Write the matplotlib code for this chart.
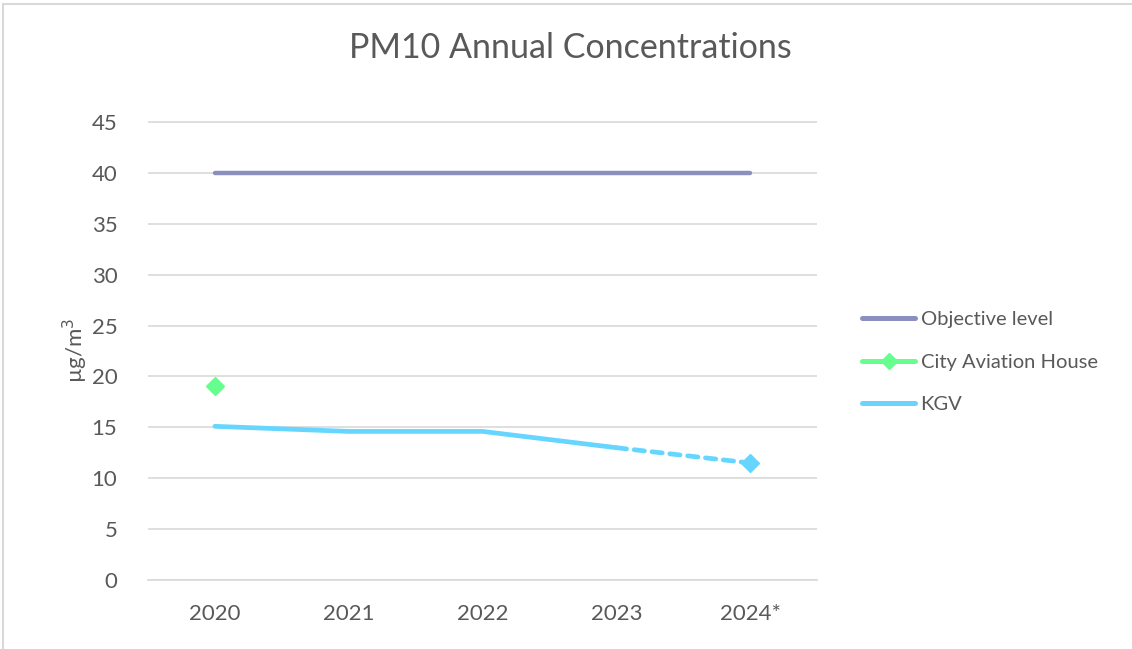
import matplotlib
matplotlib.use("Agg")
import matplotlib.pyplot as plt
from matplotlib.lines import Line2D
from matplotlib.patches import Rectangle

plt.rcParams['font.family'] = ['Lato', 'DejaVu Sans']

categories = ["2020", "2021", "2022", "2023", "2024*"]
objective = [40, 40, 40, 40, 40]
city_aviation = [19.1]
kgv = [15.1, 14.6, 14.6, 13.0, 11.5]

c_obj = "#8B8FC0"
c_city = "#66FF8F"
c_kgv = "#66D6FF"
txt = "#595959"
grid = "#D9D9D9"

fig = plt.figure(figsize=(11.32, 6.49), dpi=100)
ax = fig.add_axes([148/1132, 1-580/649, (817-148)/1132, (580-122)/649 * 50/45])

x = list(range(len(categories)))
ax.plot(x, objective, color=c_obj, lw=3.2, solid_capstyle='round')
ax.plot(x[:1], city_aviation, linestyle='none', marker='D', color=c_city, markersize=9)
ax.plot(x[:4], kgv[:4], color=c_kgv, lw=3.4, solid_capstyle='round')
ax.plot(x[3:], kgv[3:], color=c_kgv, lw=3.4, dashes=(2.2, 1.6), dash_capstyle='round')
ax.plot(x[4:], kgv[4:], linestyle='none', marker='D', color=c_kgv, markersize=9)

ax.set_xlim(-0.5, 4.5)
ax.set_ylim(0, 50)
ax.set_yticks(range(0, 50, 5))
ax.set_xticks(x)
ax.set_xticklabels(categories)
for s in ['top', 'right', 'left']:
    ax.spines[s].set_visible(False)
ax.spines['bottom'].set_color(grid)
ax.spines['bottom'].set_linewidth(1.2)
ax.tick_params(axis='both', length=0, labelsize=16, colors=txt)
ax.tick_params(axis='y', pad=22)
ax.tick_params(axis='x', pad=17)
ax.grid(axis='y', color=grid, lw=1.2)
ax.set_axisbelow(True)
ax.set_ylabel("µg/m$^3$", fontsize=16, color=txt)
ax.yaxis.set_label_coords(-58/669, 0.452)

fig.text(570/1132, 1-48/649, "PM10 Annual Concentrations", fontsize=24.5, color=txt,
         ha='center', va='center')

handles = [Line2D([], [], color=c_obj, lw=3.6, solid_capstyle='round'),
           Line2D([], [], color=c_city, lw=3.6, marker='D', markersize=8, solid_capstyle='round'),
           Line2D([], [], color=c_kgv, lw=3.6, solid_capstyle='round')]
leg = fig.legend(handles, ["Objective level", "City Aviation House", "KGV"],
                 loc='center left', bbox_to_anchor=(844/1132, 1-362/649), frameon=False,
                 fontsize=14.5, labelcolor=txt, handlelength=2.65, handletextpad=0.25,
                 labelspacing=1.26)

fig.patches.append(Rectangle((3/1132, -0.01), 1.1, 1-4/649 + 0.01, transform=fig.transFigure,
                             fill=False, edgecolor=grid, lw=1.5))

fig.savefig("out.png", dpi=100)
